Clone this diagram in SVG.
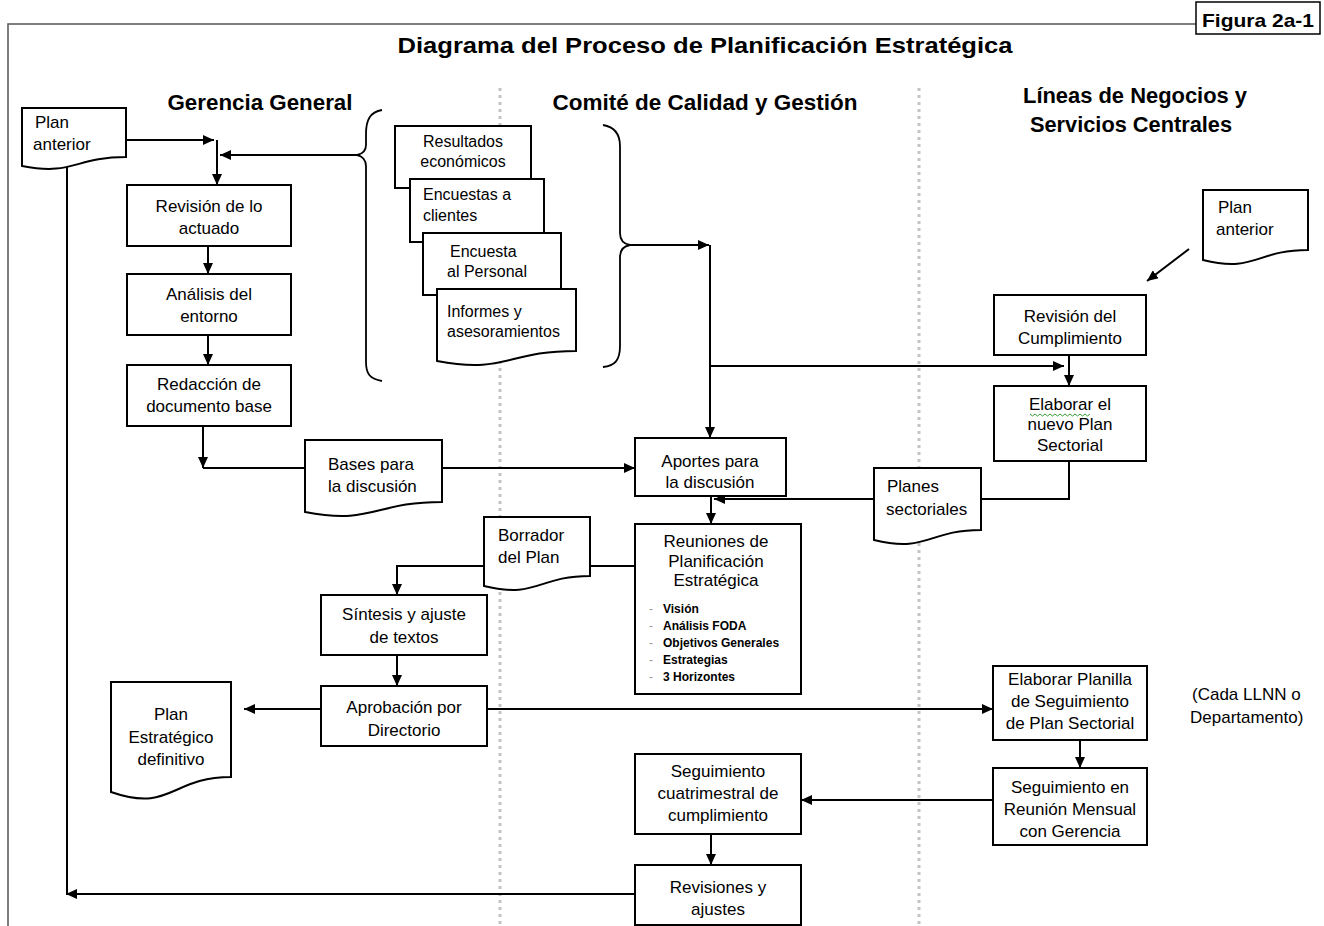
<svg xmlns="http://www.w3.org/2000/svg" width="1324" height="926" viewBox="0 0 1324 926">
  <style>
    .box { fill: #fff; stroke: #000; stroke-width: 2; }
    .doc { fill: #fff; stroke: #000; stroke-width: 2; stroke-linejoin: miter; }
    .ln { fill: none; stroke: #000; stroke-width: 2; }
    .arr { fill: none; stroke: #000; stroke-width: 2; marker-end: url(#ah); }
    .brace { fill: none; stroke: #000; stroke-width: 1.8; }
    .lane { stroke: #c4c4c4; stroke-width: 3; stroke-dasharray: 3 4; }
    .t { font-family: "Liberation Sans", Arial, sans-serif; font-size: 17px; fill: #000; }
    .ts { font-family: "Liberation Sans", Arial, sans-serif; font-size: 16px; fill: #000; }
    .c { text-anchor: middle; }
    .h { font-family: "Liberation Sans", Arial, sans-serif; font-size: 22px; font-weight: bold; fill: #000; text-anchor: middle; }
    .b { font-family: "Liberation Sans", Arial, sans-serif; font-size: 12px; font-weight: bold; fill: #000; }
    .dash { font-family: "Liberation Sans", Arial, sans-serif; font-size: 12px; fill: #999; }
  </style>
  <defs>
    <marker id="ah" markerUnits="userSpaceOnUse" markerWidth="11" markerHeight="10" refX="11" refY="5" orient="auto">
      <path d="M0,0 L11,5 L0,10 Z" fill="#000"/>
    </marker>
  </defs>

  <rect width="1324" height="926" fill="#fff"/>

  <!-- frame and figure tag -->
  <g id="frame">
    <path d="M8,926 V24 H1196" fill="none" stroke="#555" stroke-width="1.5"/>
    <rect x="1196" y="2" width="124" height="32" fill="#fff" stroke="#000" stroke-width="1.5"/>
    <text x="1258" y="27" font-family="'Liberation Sans', Arial, sans-serif" font-size="19" font-weight="bold" text-anchor="middle" textLength="112" lengthAdjust="spacingAndGlyphs">Figura 2a-1</text>
  </g>

  <!-- title and lane headers -->
  <g id="headers">
    <text class="h" x="705" y="53" font-size="24" textLength="615" lengthAdjust="spacingAndGlyphs">Diagrama del Proceso de Planificación Estratégica</text>
    <text class="h" x="260" y="110" textLength="185" lengthAdjust="spacingAndGlyphs">Gerencia General</text>
    <text class="h" x="705" y="110" textLength="305" lengthAdjust="spacingAndGlyphs">Comité de Calidad y Gestión</text>
    <text class="h" x="1135" y="103" textLength="224" lengthAdjust="spacingAndGlyphs">Líneas de Negocios y</text>
    <text class="h" x="1131" y="132" textLength="202" lengthAdjust="spacingAndGlyphs">Servicios Centrales</text>
  </g>

  <!-- swimlane dividers -->
  <g id="lanes">
    <line class="lane" x1="500" y1="88" x2="500" y2="926"/>
    <line class="lane" x1="919" y1="88" x2="919" y2="926"/>
  </g>

  <!-- connectors -->
  <g id="connectors">
    <path class="arr" d="M126,140 H214"/>
    <path class="arr" d="M217,140 V185"/>
    <path class="arr" d="M357,155 H220"/>
    <path class="arr" d="M208,246 V274"/>
    <path class="arr" d="M208,335 V365"/>
    <path class="arr" d="M203,426 V468"/>
    <path class="ln" d="M203,468 H305"/>
    <path class="arr" d="M442,468 H635"/>
    <path class="arr" d="M630,245 H709"/>
    <path class="arr" d="M710,245 V438"/>
    <path class="arr" d="M710,366 H1064"/>
    <path class="arr" d="M1069,355 V386"/>
    <path class="arr" d="M1189,249 L1147,281"/>
    <path class="ln" d="M1069,461 V499 H981"/>
    <path class="arr" d="M874,499 H714"/>
    <path class="arr" d="M711,496 V524"/>
    <path class="ln" d="M635,566 H590"/>
    <path class="arr" d="M484,566 H397 V595"/>
    <path class="arr" d="M397,655 V686"/>
    <path class="arr" d="M321,709 H244"/>
    <path class="arr" d="M487,709 H993"/>
    <path class="arr" d="M1080,740 V768"/>
    <path class="arr" d="M993,800 H801"/>
    <path class="arr" d="M711,834 V865"/>
    <path class="arr" d="M635,894 H66"/>
    <path class="ln" d="M67,894 V160"/>
  </g>

  <!-- braces around the input documents -->
  <g id="braces">
    <path class="brace" d="M382,110 C370,112 366,120 366,134 L366,145 C366,151 362,154 357,155 C362,156 366,160 366,166 L366,362 C366,374 370,379 382,381"/>
    <path class="brace" d="M603,125 C615,127 620,134 620,146 L620,233 C620,240 624,244 630,245 C624,246 620,250 620,257 L620,346 C620,360 615,366 603,367"/>
  </g>

  <!-- Gerencia General lane -->
  <g id="plan-anterior-gg">
    <path class="doc" d="M22,108 H126 V157 C74,157 74,176 22,166 Z"/>
    <text class="t" x="35" y="128">Plan</text>
    <text class="t" x="33" y="150">anterior</text>
  </g>
  <g id="revision-actuado">
    <rect class="box" x="127" y="185" width="164" height="61"/>
    <text class="t c" x="209" y="212">Revisión de lo</text>
    <text class="t c" x="209" y="234">actuado</text>
  </g>
  <g id="analisis-entorno">
    <rect class="box" x="127" y="274" width="164" height="61"/>
    <text class="t c" x="209" y="300">Análisis del</text>
    <text class="t c" x="209" y="322">entorno</text>
  </g>
  <g id="redaccion-documento">
    <rect class="box" x="127" y="365" width="164" height="61"/>
    <text class="t c" x="209" y="390">Redacción de</text>
    <text class="t c" x="209" y="412">documento base</text>
  </g>
  <g id="bases-discusion">
    <path class="doc" d="M305,440 H442 V502 C373.5,502 373.5,525 305,512 Z"/>
    <text class="t" x="328" y="470">Bases para</text>
    <text class="t" x="328" y="492">la discusión</text>
  </g>
  <g id="sintesis-ajuste">
    <rect class="box" x="321" y="595" width="166" height="60"/>
    <text class="t c" x="404" y="620">Síntesis y ajuste</text>
    <text class="t c" x="404" y="643">de textos</text>
  </g>
  <g id="aprobacion-directorio">
    <rect class="box" x="321" y="686" width="166" height="60"/>
    <text class="t c" x="404" y="713">Aprobación por</text>
    <text class="t c" x="404" y="736">Directorio</text>
  </g>
  <g id="plan-estrategico">
    <path class="doc" d="M111,682 H231 V777 C171,777 171,813 111,792 Z"/>
    <text class="t c" x="171" y="720">Plan</text>
    <text class="t c" x="171" y="743">Estratégico</text>
    <text class="t c" x="171" y="765">definitivo</text>
  </g>

  <!-- stacked input documents -->
  <g id="documentos-entrada">
    <rect class="doc" x="395" y="126" width="136" height="62"/>
    <text class="ts c" x="463" y="147">Resultados</text>
    <text class="ts c" x="463" y="167">económicos</text>
    <rect class="doc" x="410" y="179" width="134" height="63"/>
    <text class="ts" x="423" y="200">Encuestas a</text>
    <text class="ts" x="423" y="221">clientes</text>
    <rect class="doc" x="423" y="233" width="138" height="62"/>
    <text class="ts" x="450" y="257">Encuesta</text>
    <text class="ts" x="447" y="277">al Personal</text>
    <path class="doc" d="M437,289 H576 V351 C506.5,351 506.5,374 437,361 Z"/>
    <text class="ts" x="447" y="317">Informes y</text>
    <text class="ts" x="447" y="337">asesoramientos</text>
  </g>

  <!-- Comité de Calidad y Gestión lane -->
  <g id="aportes-discusion">
    <rect class="box" x="635" y="438" width="151" height="58"/>
    <text class="t c" x="710" y="467">Aportes para</text>
    <text class="t c" x="710" y="488">la discusión</text>
  </g>
  <g id="reuniones-planificacion">
    <rect class="box" x="635" y="524" width="166" height="170"/>
    <text class="t c" x="716" y="547">Reuniones de</text>
    <text class="t c" x="716" y="567">Planificación</text>
    <text class="t c" x="716" y="586">Estratégica</text>
    <text class="dash" x="649" y="613">-</text>
    <text class="b" x="663" y="613">Visión</text>
    <text class="dash" x="649" y="630">-</text>
    <text class="b" x="663" y="630">Análisis FODA</text>
    <text class="dash" x="649" y="647">-</text>
    <text class="b" x="663" y="647">Objetivos Generales</text>
    <text class="dash" x="649" y="664">-</text>
    <text class="b" x="663" y="664">Estrategias</text>
    <text class="dash" x="649" y="681">-</text>
    <text class="b" x="663" y="681">3 Horizontes</text>
  </g>
  <g id="borrador-plan">
    <path class="doc" d="M484,517 H590 V576 C537,576 537,599 484,586 Z"/>
    <text class="t" x="498" y="541">Borrador</text>
    <text class="t" x="498" y="563">del Plan</text>
  </g>
  <g id="seguimiento-cuatrimestral">
    <rect class="box" x="635" y="754" width="166" height="80"/>
    <text class="t c" x="718" y="777">Seguimiento</text>
    <text class="t c" x="718" y="799">cuatrimestral de</text>
    <text class="t c" x="718" y="821">cumplimiento</text>
  </g>
  <g id="revisiones-ajustes">
    <rect class="box" x="635" y="865" width="166" height="60"/>
    <text class="t c" x="718" y="893">Revisiones y</text>
    <text class="t c" x="718" y="915">ajustes</text>
  </g>

  <!-- Líneas de Negocios y Servicios Centrales lane -->
  <g id="plan-anterior-ln">
    <path class="doc" d="M1203,190 H1308 V250 C1255.5,250 1255.5,273 1203,260 Z"/>
    <text class="t" x="1218" y="213">Plan</text>
    <text class="t" x="1216" y="235">anterior</text>
  </g>
  <g id="revision-cumplimiento">
    <rect class="box" x="994" y="295" width="152" height="60"/>
    <text class="t c" x="1070" y="322">Revisión del</text>
    <text class="t c" x="1070" y="344">Cumplimiento</text>
  </g>
  <g id="elaborar-plan-sectorial">
    <rect class="box" x="994" y="386" width="152" height="75"/>
    <text class="t c" x="1070" y="410">Elaborar el</text>
    <path d="M1030,414 l2.5,2 l2.5,-2 l2.5,2 l2.5,-2 l2.5,2 l2.5,-2 l2.5,2 l2.5,-2 l2.5,2 l2.5,-2 l2.5,2 l2.5,-2 l2.5,2 l2.5,-2 l2.5,2 l2.5,-2 l2.5,2 l2.5,-2 l2.5,2 l2.5,-2 l2.5,2 l2.5,-2 l2.5,2 l2.5,-2" fill="none" stroke="#3a9a3a" stroke-width="1"/>
    <text class="t c" x="1070" y="430">nuevo Plan</text>
    <text class="t c" x="1070" y="451">Sectorial</text>
  </g>
  <g id="planes-sectoriales">
    <path class="doc" d="M874,468 H981 V530 C927.5,530 927.5,553 874,540 Z"/>
    <text class="t" x="887" y="492">Planes</text>
    <text class="t" x="886" y="515">sectoriales</text>
  </g>
  <g id="planilla-seguimiento">
    <rect class="box" x="993" y="666" width="154" height="74"/>
    <text class="t c" x="1070" y="685">Elaborar Planilla</text>
    <text class="t c" x="1070" y="707">de Seguimiento</text>
    <text class="t c" x="1070" y="729">de Plan Sectorial</text>
  </g>
  <g id="nota-llnn">
    <text class="t" x="1192" y="700">(Cada LLNN o</text>
    <text class="t" x="1190" y="723">Departamento)</text>
  </g>
  <g id="seguimiento-reunion">
    <rect class="box" x="993" y="768" width="154" height="77"/>
    <text class="t c" x="1070" y="793">Seguimiento en</text>
    <text class="t c" x="1070" y="815">Reunión Mensual</text>
    <text class="t c" x="1070" y="837">con Gerencia</text>
  </g>
</svg>
